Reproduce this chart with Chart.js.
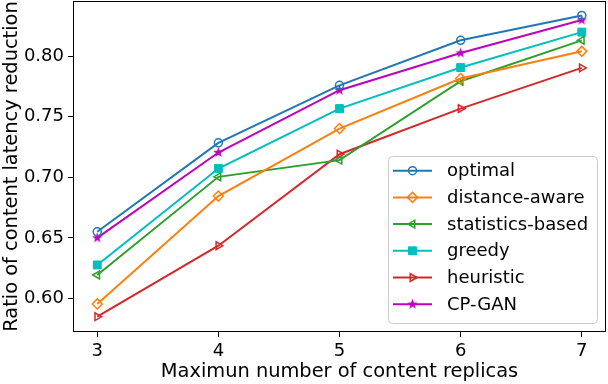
<!DOCTYPE html>
<html>
<head>
<meta charset="utf-8">
<script src="https://cdn.jsdelivr.net/npm/chart.js@4.4.1/dist/chart.umd.min.js"></script>
<style>
  html, body { margin: 0; padding: 0; background: #fff; }
</style>
</head>
<body>
<canvas id="chart" width="608" height="384"></canvas>
<script>
const replicas = [3, 4, 5, 6, 7];
const optimal = [0.655, 0.7285, 0.776, 0.8132, 0.8338];
const distanceAware = [0.5954, 0.6845, 0.7403, 0.7816, 0.8041];
const statisticsBased = [0.6193, 0.7004, 0.7142, 0.7794, 0.8132];
const greedy = [0.6276, 0.7073, 0.7568, 0.7907, 0.820];
const heuristic = [0.5849, 0.6435, 0.7191, 0.7568, 0.7904];
const cpGan = [0.650, 0.7205, 0.772, 0.8027, 0.830];
const yTicks = [0.60, 0.65, 0.70, 0.75, 0.80];

const FONT = '"DejaVu Sans", sans-serif';

// filled five-point star marker (matplotlib '*')
function starMarker(color, r) {
  const s = Math.ceil(r * 2 + 2);
  const c = document.createElement('canvas');
  c.width = s; c.height = s;
  const g = c.getContext('2d');
  g.fillStyle = color;
  g.beginPath();
  for (let k = 0; k < 10; k++) {
    const rr = k % 2 ? r * 0.42 : r;
    const ang = -Math.PI / 2 + k * Math.PI / 5;
    g.lineTo(s / 2 + rr * Math.cos(ang), s / 2 + rr * Math.sin(ang));
  }
  g.closePath();
  g.fill();
  return c;
}

function series(label, values, color, style, opts) {
  return Object.assign({
    label: label,
    data: replicas.map((x, i) => ({ x: x, y: values[i] })),
    borderColor: color,
    backgroundColor: color,
    borderWidth: 2,
    pointStyle: style,
    pointRadius: 4.5,
    pointHoverRadius: 4.5,
    pointRotation: 0,
    pointBorderColor: color,
    pointBackgroundColor: 'rgba(0,0,0,0)',
    pointBorderWidth: 1.5,
    tension: 0,
    clip: false
  }, opts || {});
}

const datasets = [
  series('optimal', optimal, '#1f77b4', 'circle', { pointRadius: 4 }),
  series('distance-aware', distanceAware, '#ff7f0e', 'rectRot', { pointRadius: 5 }),
  series('statistics-based', statisticsBased, '#2ca02c', 'triangle', { pointRotation: -90 }),
  series('greedy', greedy, '#00bfbf', 'rect', { pointRadius: 5.6, pointBackgroundColor: '#00bfbf', pointBorderWidth: 1 }),
  series('heuristic', heuristic, '#d62728', 'triangle', { pointRotation: 90 }),
  series('CP-GAN', cpGan, '#bf00bf', starMarker('#bf00bf', 5.5), { pointBackgroundColor: '#bf00bf' })
];

const frame = {
  id: 'frame',
  afterDatasetsDraw(chart) {
    const ctx = chart.ctx, a = chart.chartArea;
    ctx.save();
    ctx.strokeStyle = '#000';
    ctx.lineWidth = 1;
    ctx.strokeRect(Math.round(a.left) + 0.5, Math.round(a.top) + 0.5,
      Math.round(a.right - a.left) - 1, Math.round(a.bottom - a.top) - 1);
    ctx.restore();
  }
};

const legendBox = {
  id: 'legendBox',
  afterDraw(chart) {
    const ctx = chart.ctx, a = chart.chartArea;
    const w = 209, h = 167;
    const x0 = Math.round(a.right - 9 - w), y0 = Math.round(a.bottom - 9 - h);
    ctx.save();
    ctx.beginPath();
    ctx.roundRect(x0 + 0.5, y0 + 0.5, w, h, 4);
    ctx.fillStyle = 'rgba(255,255,255,0.8)';
    ctx.fill();
    ctx.strokeStyle = '#cccccc';
    ctx.lineWidth = 1;
    ctx.stroke();
    ctx.font = '18px ' + FONT;
    ctx.textBaseline = 'middle';
    chart.data.datasets.forEach((ds, i) => {
      const y = y0 + 14.7 + i * 26.7;
      ctx.strokeStyle = ds.borderColor;
      ctx.lineWidth = 2;
      ctx.beginPath();
      ctx.moveTo(x0 + 5, y);
      ctx.lineTo(x0 + 44, y);
      ctx.stroke();
      ctx.fillStyle = ds.pointBackgroundColor;
      ctx.lineWidth = ds.pointBorderWidth;
      Chart.helpers.drawPoint(ctx, {
        pointStyle: ds.pointStyle,
        rotation: ds.pointRotation,
        radius: ds.pointRadius,
        borderWidth: ds.pointBorderWidth
      }, x0 + 24.5, y);
      ctx.fillStyle = '#000';
      ctx.fillText(ds.label, x0 + 59, y + 1);
    });
    ctx.restore();
  }
};

new Chart(document.getElementById('chart'), {
  type: 'line',
  data: { datasets: datasets },
  options: {
    responsive: false,
    animation: false,
    events: [],
    layout: { autoPadding: false, padding: { top: 1, right: 2, left: 0, bottom: 0 } },
    plugins: {
      legend: { display: false },
      tooltip: { enabled: false }
    },
    scales: {
      x: {
        type: 'linear',
        min: 2.8,
        max: 7.2,
        afterBuildTicks: s => { s.ticks = replicas.map(v => ({ value: v })); },
        afterFit: s => { s.height = 52; s.paddingLeft = 0; s.paddingRight = 0; },
        grid: { drawOnChartArea: false, drawTicks: true, tickLength: 5, tickColor: '#000', tickWidth: 1 },
        border: { display: false },
        ticks: { color: '#000', font: { family: FONT, size: 18 }, padding: 4, maxRotation: 0,
          callback: v => String(v) },
        title: { display: true, text: 'Maximun number of content replicas', color: '#000',
          font: { family: FONT, size: 19.4 }, padding: { top: 0, bottom: 0 } }
      },
      y: {
        min: 0.5722,
        max: 0.8457,
        afterBuildTicks: s => { s.ticks = yTicks.map(v => ({ value: v })); },
        afterFit: s => { s.width = 73; s.paddingTop = 0; s.paddingBottom = 0; },
        grid: { drawOnChartArea: false, drawTicks: true, tickLength: 5, tickColor: '#000', tickWidth: 1 },
        border: { display: false },
        ticks: { color: '#000', font: { family: FONT, size: 18 }, padding: 4,
          callback: v => v.toFixed(2) },
        title: { display: true, text: 'Ratio of content latency reduction', color: '#000',
          font: { family: FONT, size: 19.4 }, padding: { top: 0, bottom: 0 } }
      }
    }
  },
  plugins: [frame, legendBox]
});
</script>
</body>
</html>
